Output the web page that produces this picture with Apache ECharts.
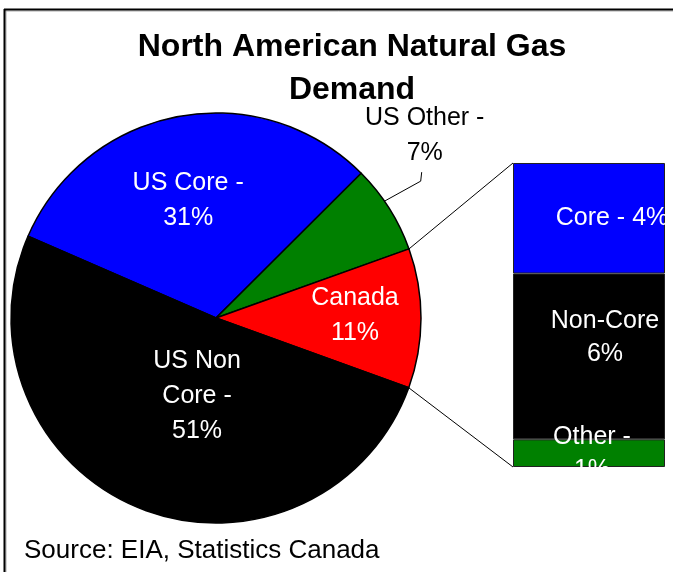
<!DOCTYPE html>
<html>
<head>
<meta charset="utf-8">
<script src="https://cdn.jsdelivr.net/npm/echarts@6/dist/echarts.min.js"></script>
<style>
  html, body { margin: 0; padding: 0; background: #fff; }
  #main { width: 673px; height: 572px; }
</style>
</head>
<body>
<div id="main"></div>
<script>
// main pie
const pieNames = ['US Core -\n31%', 'US Other -\n7%', 'Canada\n11%', 'US Non\nCore -\n51%']
const pieValues = [31, 7, 11, 51]
const pieColors = ['#0000ff', '#008000', '#ff0000', '#000000']
// breakdown of Canada (bottom to top)
const barNames = ['Other -\n1%', 'Non-Core\n6%', 'Core - 4%']
const barValues = [1, 6, 4]
const barColors = ['#008000', '#000000', '#0000ff']

const FONT = 'Liberation Sans, Arial, sans-serif'
const center = [216, 318]
const radius = 205
const startAngle = 156.5
const grid = { left: 513, top: 163, width: 152, height: 304 }

const total = pieValues.reduce((a, b) => a + b, 0)
// angle (deg) where each slice starts / ends
const sliceStart = []
const sliceEnd = []
let acc = startAngle
pieValues.forEach(v => {
  sliceStart.push(acc)
  acc -= v / total * 360
  sliceEnd.push(acc)
})
const onCircle = (deg, r) => {
  const a = deg * Math.PI / 180
  return [center[0] + r * Math.cos(a), center[1] - r * Math.sin(a)]
}

// inside label placement: [radius, degrees off the slice middle]
const labelPolar = [[121, 2.6], null, [139, 1.0], [80, 8.0]]

const chart = echarts.init(document.getElementById('main'))

const barSeries = barValues.map((v, i) => ({
  type: 'bar',
  stack: 'canada',
  barWidth: '100%',
  silent: true,
  data: [v],
  itemStyle: { color: barColors[i], borderColor: '#222', borderWidth: 1 },
  label: {
    show: true,
    position: 'inside',
    formatter: barNames[i],
    color: '#fff',
    fontFamily: FONT,
    fontSize: 25,
    lineHeight: 33,
    overflow: 'none',
    offset: i === 2 ? [23, 0] : (i === 1 ? [16, -19] : [3, 0])
  }
}))

const option = {
  animation: false,
  grid: Object.assign({}, grid),
  xAxis: { type: 'category', data: ['Canada'], show: false },
  yAxis: { type: 'value', min: 0, max: barValues.reduce((a, b) => a + b, 0), show: false },
  series: [
    {
      type: 'pie',
      center: center,
      radius: radius,
      startAngle: startAngle,
      clockwise: true,
      silent: true,
      avoidLabelOverlap: false,
      data: pieValues.map((v, i) => ({
        name: pieNames[i],
        value: v,
        itemStyle: { color: pieColors[i] },
        label: i === 1 ? { position: 'outside', color: '#000' } : undefined,
        labelLine: i === 1 ? { show: true } : undefined
      })),
      itemStyle: { borderColor: '#000', borderWidth: 1.5 },
      label: {
        show: true,
        position: 'inside',
        formatter: '{b}',
        color: '#fff',
        fontFamily: FONT,
        fontSize: 25,
        lineHeight: 35,
        overflow: 'none',
        width: 200
      },
      labelLine: { show: false, lineStyle: { color: '#000', width: 1 } },
      labelLayout: params => {
        const i = params.dataIndex
        const mid = (sliceStart[i] + sliceEnd[i]) / 2
        if (i === 1) {
          const p0 = onCircle(mid + 2.5, radius - 2)
          const p1 = [p0[0] + 38, p0[1] - 21]
          const p2 = [p1[0] + 1, p1[1] - 9]
          return {
            x: p2[0] + 3,
            y: p2[1] - 37,
            align: 'center',
            verticalAlign: 'middle',
            labelLinePoints: [p0, p1, p2]
          }
        }
        const pos = onCircle(mid + labelPolar[i][1], labelPolar[i][0])
        return { x: pos[0], y: pos[1], align: 'center', verticalAlign: 'middle' }
      }
    }
  ].concat(barSeries)
}
chart.setOption(option)

// frame, texts and the lines joining the Canada slice to the bar
const topPt = onCircle(sliceStart[2], radius)
const botPt = onCircle(sliceEnd[2], radius)
const barTop = chart.convertToPixel({ yAxisIndex: 0 }, option.yAxis.max)
const barBottom = chart.convertToPixel({ yAxisIndex: 0 }, 0)

chart.setOption({
  graphic: [
    { type: 'line', shape: { x1: 4, y1: 11, x2: 673, y2: 11 }, style: { stroke: '#aaa', lineWidth: 1 } },
    { type: 'line', shape: { x1: 6, y1: 10, x2: 6, y2: 572 }, style: { stroke: '#aaa', lineWidth: 1 } },
    { type: 'line', shape: { x1: 4, y1: 9.5, x2: 673, y2: 9.5 }, style: { stroke: '#000', lineWidth: 2 } },
    { type: 'line', shape: { x1: 4.5, y1: 9, x2: 4.5, y2: 572 }, style: { stroke: '#000', lineWidth: 2 } },
    {
      type: 'text', x: 352, y: 26,
      style: {
        text: 'North American Natural Gas\nDemand',
        font: 'bold 32px ' + FONT,
        textAlign: 'center',
        lineHeight: 43,
        fill: '#000'
      }
    },
    {
      type: 'text', x: 24, y: 538,
      style: { text: 'Source: EIA, Statistics Canada', font: '26px ' + FONT, fill: '#000' }
    },
    {
      type: 'line',
      shape: { x1: topPt[0], y1: topPt[1], x2: grid.left, y2: barTop },
      style: { stroke: '#000', lineWidth: 1 }
    },
    {
      type: 'line',
      shape: { x1: botPt[0], y1: botPt[1], x2: grid.left, y2: barBottom },
      style: { stroke: '#000', lineWidth: 1 }
    }
  ]
})
</script>
</body>
</html>
